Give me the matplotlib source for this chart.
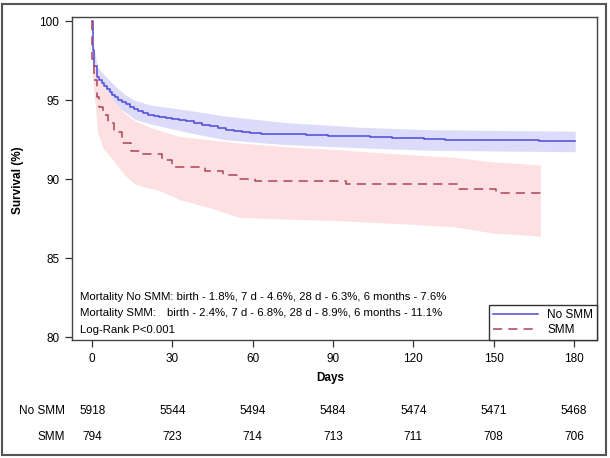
import matplotlib
matplotlib.use("Agg")
import matplotlib.pyplot as plt
from matplotlib.patches import Rectangle
from matplotlib.lines import Line2D

plt.rcParams['font.family'] = ['Liberation Sans', 'DejaVu Sans']

# Kaplan-Meier step data
no_smm_days = [0, 0.3, 0.8, 1.7, 2.5, 3.5, 4.5, 5.5, 6.5, 7.5, 8.5, 9.5, 11, 12.5, 14,
               15.5, 17, 19, 21, 23, 25, 27.5, 30, 32.5, 35, 38, 41, 44, 47, 50, 53, 56,
               59, 63, 68, 74, 80, 88, 96, 104, 112, 118, 124, 132, 145, 158, 167, 180.5]
no_smm_surv = [100, 98.2, 97.2, 96.5, 96.3, 96.1, 95.9, 95.7, 95.5, 95.35, 95.2, 95.05,
               94.9, 94.75, 94.6, 94.45, 94.35, 94.2, 94.1, 94.0, 93.95, 93.9, 93.85,
               93.78, 93.7, 93.58, 93.47, 93.36, 93.25, 93.15, 93.07, 93.0, 92.95, 92.9,
               92.87, 92.85, 92.8, 92.77, 92.73, 92.7, 92.65, 92.6, 92.55, 92.5, 92.5,
               92.48, 92.45, 92.45]

smm_days = [0, 0.1, 0.8, 1.8, 2.6, 4, 6, 8, 11, 14.5, 18, 26, 30, 42, 49, 55, 61, 95,
            137, 151, 167.5]
smm_surv = [100, 97.6, 96.3, 95.2, 94.6, 94.1, 93.6, 93.0, 92.3, 91.8, 91.6, 91.2, 90.8,
            90.55, 90.25, 90.0, 89.9, 89.7, 89.4, 89.15, 89.05]

# confidence bands
no_smm_band_days = [0.3, 1, 2, 4, 8, 12, 16, 22, 35, 50, 72, 100, 125, 150, 180.5]
no_smm_upper = [98.6, 98.0, 97.1, 96.7, 96.0, 95.4, 95.0, 94.7, 94.4, 94.0, 93.6, 93.3,
                93.15, 93.1, 93.05]
no_smm_lower = [97.6, 96.4, 95.9, 95.6, 94.8, 94.3, 93.8, 93.5, 93.0, 92.5, 92.2, 92.0,
                91.85, 91.8, 91.75]

smm_band_days = [0.1, 1, 2, 4, 6, 8, 12, 16, 20, 25, 33, 44, 55, 70, 90, 115, 135, 150,
                 160, 167.5]
smm_upper = [98.6, 97.5, 96.8, 96.0, 95.5, 95.0, 94.2, 93.7, 93.4, 93.1, 92.7, 92.5, 92.3,
             92.1, 91.9, 91.6, 91.4, 91.1, 91.0, 90.9]
smm_lower = [96.5, 95.0, 93.0, 92.0, 91.6, 91.2, 90.3, 89.7, 89.5, 89.3, 88.7, 88.2, 87.6,
             87.5, 87.4, 87.2, 87.0, 86.6, 86.5, 86.4]

# numbers at risk
risk_days = [0, 30, 60, 90, 120, 150, 180]
risk_no_smm = [5918, 5544, 5494, 5484, 5474, 5471, 5468]
risk_smm = [794, 723, 714, 713, 711, 708, 706]

mort_lines = ["Mortality No SMM: birth - 1.8%, 7 d - 4.6%, 28 d - 6.3%, 6 months - 7.6%",
              "Mortality SMM:",
              "birth - 2.4%, 7 d - 6.8%, 28 d - 8.9%, 6 months - 11.1%",
              "Log-Rank P<0.001"]

blue = '#4a4ad8'
red = '#aa4459'

fig = plt.figure(figsize=(6.1, 4.58), dpi=100)
ax = fig.add_axes([0.1175, 0.2576, 0.861, 0.706])

ax.fill_between(no_smm_band_days, no_smm_lower, no_smm_upper, color='#dcdcfa', lw=0)
ax.fill_between(smm_band_days, smm_lower, smm_upper, color='#fde0e1', lw=0)
ax.step(no_smm_days, no_smm_surv, where='post', color=blue, lw=1.1)
ax.step(smm_days, smm_surv, where='post', color=red, lw=1.1, dashes=(6, 4))

ax.set_xlim(-7.66, 188.6)
ax.set_ylim(79.83, 100.3)
ax.set_xticks(risk_days)
ax.set_yticks([80, 85, 90, 95, 100])
ax.tick_params(labelsize=8.5, length=5, width=0.9, color='#333333', pad=4)
for s in ax.spines.values():
    s.set_color('#444444')
    s.set_linewidth(1.0)

handles = [Line2D([], [], color=blue, lw=1.1),
           Line2D([], [], color=red, lw=1.1, dashes=(6, 4))]
leg = ax.legend(handles, ['No SMM', 'SMM'], loc='lower right', bbox_to_anchor=(1, 0),
                borderaxespad=0, fontsize=8.5, fancybox=False, framealpha=1,
                handlelength=3.8, borderpad=0.3, labelspacing=0.3)
leg.get_frame().set_edgecolor('#333333')
leg.get_frame().set_linewidth(1.0)

fig.text(0.131, 0.3515, mort_lines[0], fontsize=8.2, va='center')
fig.text(0.131, 0.3166, mort_lines[1], fontsize=8.2, va='center')
fig.text(0.274, 0.3166, mort_lines[2], fontsize=8.2, va='center')
fig.text(0.131, 0.2795, mort_lines[3], fontsize=8.2, va='center')

fig.text(0.03, 0.607, 'Survival (%)', rotation=90, fontsize=8.5, fontweight='bold',
         ha='center', va='center')
fig.text(0.5415, 0.1747, 'Days', fontsize=8.5, fontweight='bold', ha='center', va='center')

# number at risk table
trans = matplotlib.transforms.blended_transform_factory(ax.transData, fig.transFigure)
fig.text(0.1066, 0.1026, 'No SMM', fontsize=8.5, ha='right', va='center')
fig.text(0.1066, 0.0459, 'SMM', fontsize=8.5, ha='right', va='center')
for d, n1, n2 in zip(risk_days, risk_no_smm, risk_smm):
    ax.text(d, 0.1026, str(n1), transform=trans, fontsize=8.5, ha='center', va='center')
    ax.text(d, 0.0459, str(n2), transform=trans, fontsize=8.5, ha='center', va='center')

fig.patches.append(Rectangle((0.004, 0.006), 0.99, 0.985, transform=fig.transFigure,
                             fill=False, edgecolor='#555555', lw=1.5))

fig.savefig('out.png', dpi=100)
